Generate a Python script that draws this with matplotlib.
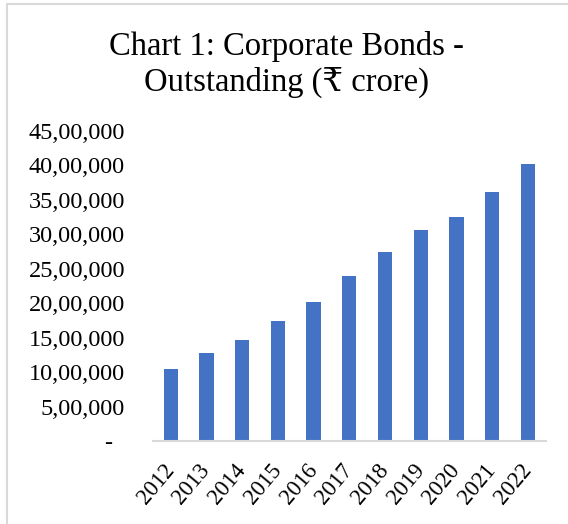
import matplotlib.pyplot as plt
from matplotlib.patches import Rectangle
from matplotlib.ticker import FuncFormatter, MultipleLocator

# Corporate bonds outstanding, Rs crore
years = ['2012', '2013', '2014', '2015', '2016', '2017',
         '2018', '2019', '2020', '2021', '2022']
outstanding = [1042000, 1283000, 1464000, 1744000, 2016000, 2403000,
               2742000, 3067000, 3256000, 3619000, 4026000]

serif = ['Liberation Serif', 'DejaVu Serif']
plt.rcParams['font.family'] = serif


def indian_fmt(x, pos):
    if x == 0:
        return '-  '
    s = str(int(round(x)))
    last3 = s[-3:]
    rest = s[:-3]
    parts = []
    while len(rest) > 2:
        parts.insert(0, rest[-2:])
        rest = rest[:-2]
    if rest:
        parts.insert(0, rest)
    return ','.join(parts + [last3])


fig = plt.figure(figsize=(5.68, 5.24), dpi=100)
ax = fig.add_axes([0.269, 0.158, 0.692, 0.592])

ax.bar(years, outstanding, width=0.4, color='#4472C4')

ax.set_ylim(0, 4500000)
ax.set_xlim(-0.5, len(years) - 0.5)
ax.yaxis.set_major_locator(MultipleLocator(500000))
ax.yaxis.set_major_formatter(FuncFormatter(indian_fmt))

for s in ['top', 'right', 'left']:
    ax.spines[s].set_visible(False)
ax.spines['bottom'].set_color('#D9D9D9')
ax.spines['bottom'].set_linewidth(1.5)
ax.tick_params(axis='y', length=0, labelsize=17.5, colors='black', pad=20)
ax.tick_params(axis='x', length=0, labelsize=16.5, colors='black', pad=18)
plt.setp(ax.get_xticklabels(), rotation=50, ha='right', va='center',
         rotation_mode='anchor')

fig.text(0.505, 0.876, 'Chart 1: Corporate Bonds -\nOutstanding (₹ crore)',
         ha='center', va='center', fontsize=23.5, linespacing=1.2)

# light frame at the top/left edge
fig.patches.append(Rectangle((7 / 568, -0.1), 1.2, 1.1 - 4 / 524,
                             transform=fig.transFigure, fill=False,
                             edgecolor='#D9D9D9', linewidth=1.5))

fig.savefig('out.png', dpi=100)
